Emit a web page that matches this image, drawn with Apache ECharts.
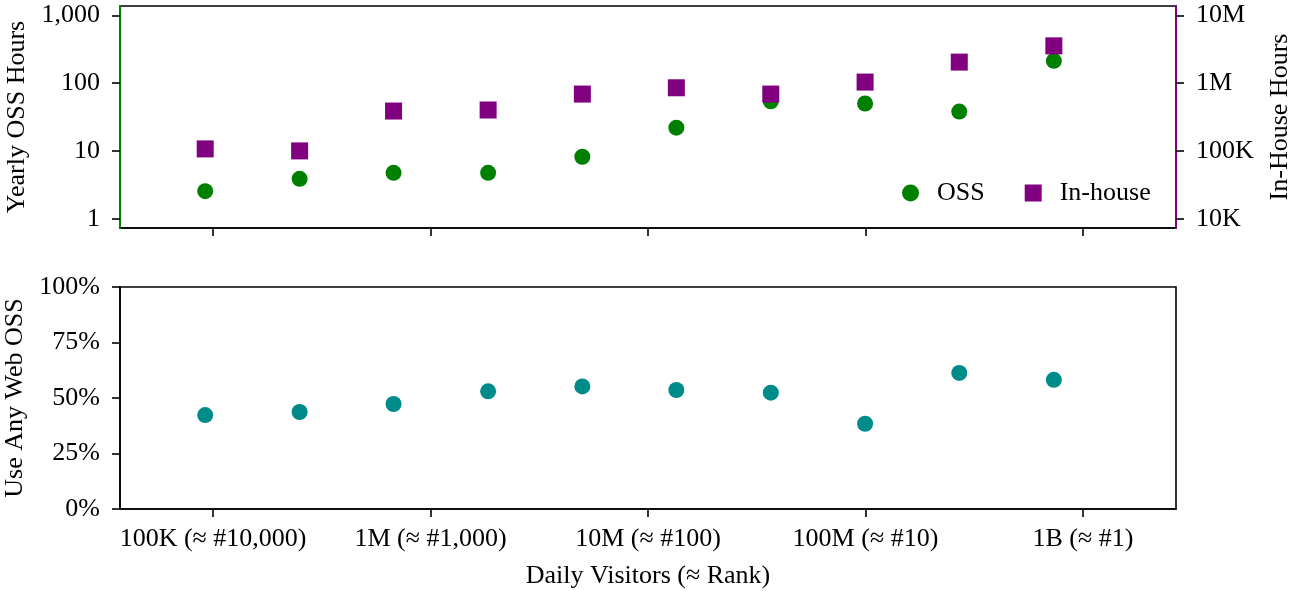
<!DOCTYPE html>
<html>
<head>
<meta charset="utf-8">
<script src="https://cdn.jsdelivr.net/npm/echarts@6/dist/echarts.min.js"></script>
<style>
  html, body { margin: 0; padding: 0; background: #fff; }
  #chart { width: 1309px; height: 591px; }
</style>
</head>
<body>
<div id="chart"></div>
<script>
// daily visitors (x, log scale) per bucket
const visitors = [92000, 250000, 676000, 1840000, 4990000, 13500000, 36700000, 99600000, 270000000, 735000000];
// yearly hours
const ossHours = [2.55, 3.87, 4.75, 4.75, 8.2, 22, 54, 50, 38, 213];
const inHouseHours = [107000, 100000, 387000, 401000, 689000, 853000, 689000, 1035000, 2040000, 3540000];
// share of sites using any web OSS (%)
const useAnyOss = [42.3, 43.7, 47.3, 53.0, 55.2, 53.6, 52.4, 38.4, 61.3, 58.2];

// tick labels (log10 exponent -> text)
const xTicks = [5, 6, 7, 8, 9];
const xTickLabels = ['100K (≈ #10,000)', '1M (≈ #1,000)', '10M (≈ #100)', '100M (≈ #10)', '1B (≈ #1)'];
const leftTicks = [0, 1, 2, 3];
const leftTickLabels = ['1', '10', '100', '1,000'];
const rightTicks = [4, 5, 6, 7];
const rightTickLabels = ['10K', '100K', '1M', '10M'];

const FONT = '"Liberation Serif", "DejaVu Serif", serif';
const FS = 26;
const lg = Math.log10;

const chart = echarts.init(document.getElementById('chart'), null, { renderer: 'canvas' });

const labelOf = (ticks, labels) => (v) => {
  const i = ticks.findIndex(t => Math.abs(t - v) < 1e-6);
  return i >= 0 ? labels[i] : '';
};

const txt = { fontFamily: FONT, fontSize: FS, color: '#000' };

const xBase = {
  type: 'value',
  min: 4.572,
  max: 9.428,
  splitLine: { show: false },
  axisLine: { onZero: false, lineStyle: { color: '#000', width: 1.6 } },
  axisTick: { length: 8, lineStyle: { color: '#000', width: 1.6 }, customValues: xTicks }
};

const option = {
  backgroundColor: '#fff',
  animation: false,
  textStyle: { fontFamily: FONT },
  grid: [
    { left: 120, right: 133, top: 6, height: 222, outerBoundsMode: 'none', containLabel: false,
      show: true, borderColor: '#000', borderWidth: 1.6 },
    { left: 120, right: 133, top: 287, height: 222, outerBoundsMode: 'none', containLabel: false,
      show: true, borderColor: '#000', borderWidth: 1.6 }
  ],
  legend: {
    data: ['OSS', 'In-house'],
    left: 897,
    top: 175,
    itemWidth: 17,
    itemHeight: 17,
    itemGap: 40,
    textStyle: Object.assign({ padding: [0, 0, 0, 13] }, txt)
  },
  xAxis: [
    Object.assign({}, xBase, {
      gridIndex: 0,
      axisLabel: { show: false }
    }),
    Object.assign({}, xBase, {
      gridIndex: 1,
      name: 'Daily Visitors (≈ Rank)',
      nameLocation: 'middle',
      nameGap: 54,
      nameTextStyle: txt,
      axisLabel: Object.assign({
        customValues: xTicks,
        margin: 17,
        formatter: labelOf(xTicks, xTickLabels)
      }, txt)
    })
  ],
  yAxis: [
    {
      type: 'value', gridIndex: 0, position: 'left', z: 5,
      min: -0.137, max: 3.137,
      name: 'Yearly OSS Hours', nameLocation: 'middle', nameGap: 89, nameRotate: 90,
      nameTextStyle: txt,
      splitLine: { show: false },
      axisLine: { show: true, onZero: false, lineStyle: { color: '#008000', width: 2 } },
      axisTick: { show: true, length: 8, lineStyle: { color: '#000', width: 1.6 }, customValues: leftTicks },
      axisLabel: Object.assign({
        customValues: leftTicks, margin: 20,
        formatter: labelOf(leftTicks, leftTickLabels)
      }, txt)
    },
    {
      type: 'value', gridIndex: 0, position: 'right', z: 5,
      min: 3.863, max: 7.137,
      name: 'In-House Hours', nameLocation: 'middle', nameGap: 91, nameRotate: 90,
      nameTextStyle: txt,
      splitLine: { show: false },
      axisLine: { show: true, onZero: false, lineStyle: { color: '#800080', width: 2 } },
      axisTick: { show: true, length: 8, lineStyle: { color: '#000', width: 1.6 }, customValues: rightTicks },
      axisLabel: Object.assign({
        customValues: rightTicks, margin: 20,
        formatter: labelOf(rightTicks, rightTickLabels)
      }, txt)
    },
    {
      type: 'value', gridIndex: 1, position: 'left',
      min: 0, max: 100, interval: 25,
      name: 'Use Any Web OSS', nameLocation: 'middle', nameGap: 89, nameRotate: 90,
      nameTextStyle: txt,
      splitLine: { show: false },
      axisLine: { show: true, onZero: false, lineStyle: { color: '#000', width: 1.6 } },
      axisTick: { show: true, length: 8, lineStyle: { color: '#000', width: 1.6 } },
      axisLabel: Object.assign({
        margin: 20,
        formatter: (v) => v + '%'
      }, txt)
    }
  ],
  series: [
    {
      name: 'OSS', type: 'scatter', xAxisIndex: 0, yAxisIndex: 0,
      symbol: 'circle', symbolSize: 16,
      itemStyle: { color: '#008000', opacity: 1 },
      data: visitors.map((v, i) => [lg(v), lg(ossHours[i])])
    },
    {
      name: 'In-house', type: 'scatter', xAxisIndex: 0, yAxisIndex: 1,
      symbol: 'rect', symbolSize: 17,
      itemStyle: { color: '#800080', opacity: 1 },
      data: visitors.map((v, i) => [lg(v), lg(inHouseHours[i])])
    },
    {
      name: 'Use Any Web OSS', type: 'scatter', xAxisIndex: 1, yAxisIndex: 2,
      symbol: 'circle', symbolSize: 16,
      itemStyle: { color: '#008b8b', opacity: 1 },
      data: visitors.map((v, i) => [lg(v), useAnyOss[i]])
    }
  ]
};

chart.setOption(option);
</script>
</body>
</html>
